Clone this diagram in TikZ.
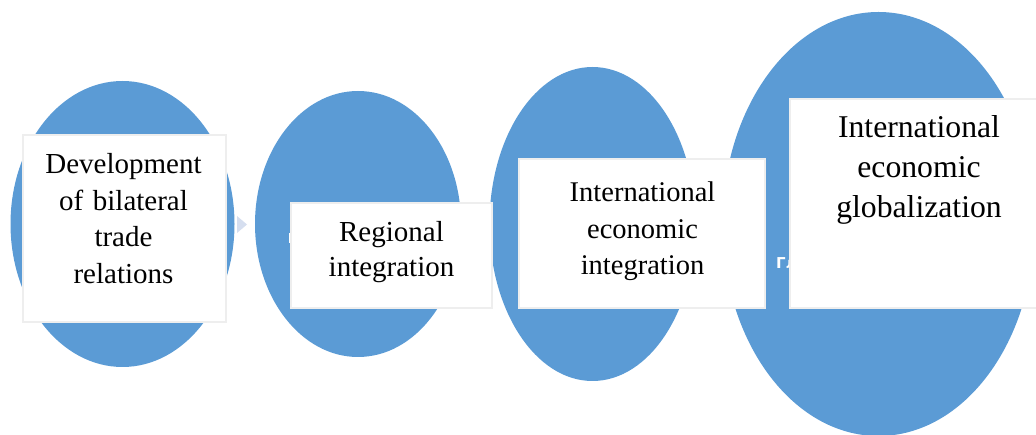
\documentclass[tikz,border=0pt]{standalone}
\usepackage{fontspec}
\setmainfont{Liberation Serif}
\newfontfamily\cyrfont{DejaVu Sans}
\usetikzlibrary{shapes.geometric}
\definecolor{ellblue}{HTML}{5B9BD5}
\definecolor{boxline}{HTML}{EEEEEE}
\definecolor{chev}{HTML}{D5DEEF}
\begin{document}
\begin{tikzpicture}[x=1pt,y=-1pt,
  blob/.style={ellipse,fill=ellblue,draw=none,inner sep=0pt},
  card/.style={rectangle,fill=white,draw=boxline,line width=1.5pt,inner sep=0pt},
  cardtext/.style={text width=260pt,align=center,inner sep=0pt,anchor=base}]
\useasboundingbox (0,0) rectangle (1036,435);
\clip (0,0) rectangle (1036,435);
% ellipses
\node[blob,minimum width=224pt,minimum height=286pt] (e1) at (122.5,224) {};
\node[blob,minimum width=206pt,minimum height=266pt] (e2) at (358,224) {};
\node[blob,minimum width=206pt,minimum height=314pt] (e3) at (592.5,224) {};
\node[blob,minimum width=312pt,minimum height=424pt] (e4) at (878.5,224) {};
% faint chevron between first two ellipses
\fill[chev] (237,216) -- (247,224.5) -- (237,233) -- cycle;
% small white marks
\fill[white] (288.5,233) rectangle (291,243);
\node[text=white,font=\cyrfont\bfseries\fontsize{15}{17}\selectfont,anchor=base west,inner sep=0pt] (gl) at (776,269) {Гл};
% cards
\node[card,minimum width=203pt,minimum height=187pt] (r1) at (124.5,228.5) {};
\node[card,minimum width=201pt,minimum height=105pt] (r2) at (391.5,255.5) {};
\node[card,minimum width=246pt,minimum height=149pt] (r3) at (642,233.5) {};
\node[card,minimum width=258pt,minimum height=209pt] (r4) at (919,203.5) {};
% texts
\node[cardtext,font=\fontsize{29}{36.4}\selectfont] (t1) at (123.5,174) {Development\\of bilateral\\trade\\relations};
\node[cardtext,font=\fontsize{29}{35}\selectfont] (t2) at (391.5,242) {Regional\\integration};
\node[cardtext,font=\fontsize{28.5}{36.5}\selectfont] (t3) at (642.5,202) {International\\economic\\integration};
\node[cardtext,font=\fontsize{31.7}{40}\selectfont] (t4) at (919,138) {International\\economic\\globalization};
\end{tikzpicture}
\end{document}
